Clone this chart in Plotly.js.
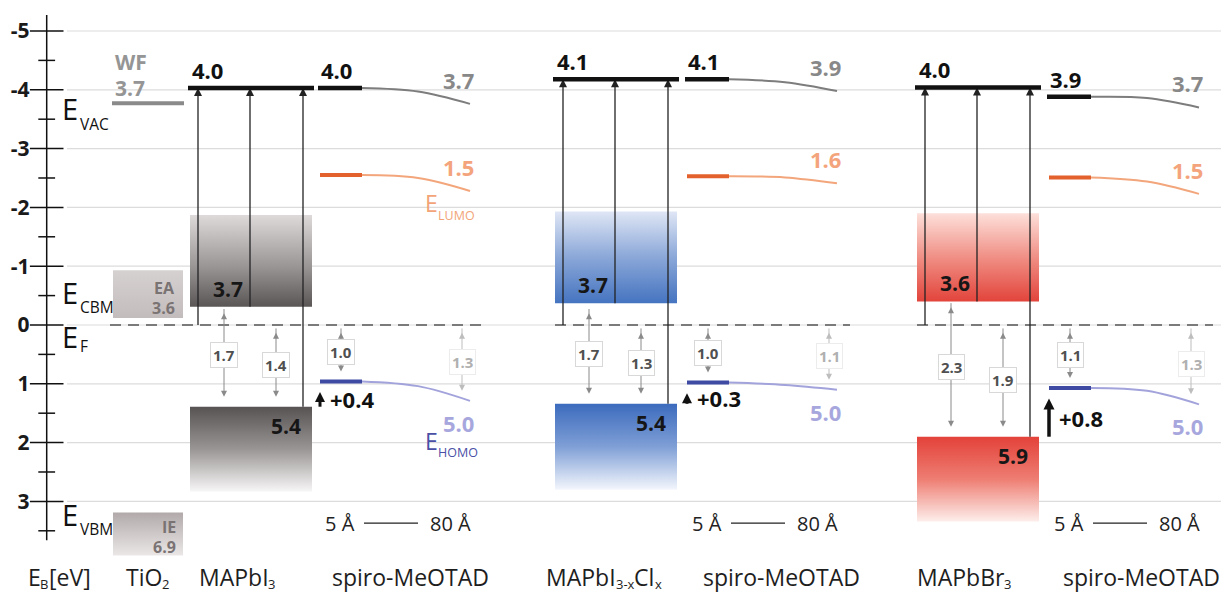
<!DOCTYPE html>
<html><head><meta charset="utf-8">
<script src="https://cdn.plot.ly/plotly-3.0.1.min.js"></script>
<style>html,body{margin:0;padding:0;background:#fff}#chart{width:1221px;height:594px}</style>
</head><body><div id="chart"></div>
<script>
// ================= DATA =================
const yTickVals = [-5, -4, -3, -2, -1, 0, 1, 2, 3];
const yTickText = ['-5', '-4', '-3', '-2', '-1', '0', '1', '2', '3'];
const yMinorVals = [-4.5, -3.5, -2.5, -1.5, -0.5, 0.5, 1.5, 2.5, 3.5];
const bottomLabels = ['E<sub>B</sub>[eV]', 'TiO<sub>2</sub>', 'MAPbI<sub>3</sub>', 'spiro-MeOTAD',
  'MAPbI<sub>3-x</sub>Cl<sub>x</sub>', 'spiro-MeOTAD', 'MAPbBr<sub>3</sub>', 'spiro-MeOTAD'];

// TiO2
const tio2WF = -3.77, tio2WFLabel = '3.7';
const tio2EA = [-0.93, -0.12], tio2EALabel = '3.6';
const tio2IE = [3.19, 3.92], tio2IELabel = '6.9';

// perovskites (MAPbI3, MAPbI3-xClx, MAPbBr3)
const pvVac = [-4.03, -4.18, -4.04];
const pvVacLabel = ['4.0', '4.1', '4.0'];
const pvCBMTop = [-1.87, -1.93, -1.90];
const pvCBM = [-0.31, -0.37, -0.40];
const pvCBMLabel = ['3.7', '3.7', '3.6'];
const pvVBM = [1.39, 1.34, 1.90];
const pvVBMBottom = [2.83, 2.80, 3.34];
const pvVBMLabel = ['5.4', '5.4', '5.9'];
const pvGapA = ['1.7', '1.7', '2.3'];
const pvGapB = ['1.4', '1.3', '1.9'];

// spiro-MeOTAD on each perovskite (5 Å -> 80 Å)
const spVacStart = [-4.03, -4.18, -3.88];
const spVacMid = [-3.97, -4.13, -3.86];
const spVacEnd = [-3.76, -3.98, -3.70];
const spVacStartLabel = ['4.0', '4.1', '3.9'];
const spVacEndLabel = ['3.7', '3.9', '3.7'];
const spLumoStart = [-2.55, -2.53, -2.51];
const spLumoMid = [-2.50, -2.51, -2.44];
const spLumoEnd = [-2.28, -2.41, -2.23];
const spLumoLabel = ['1.5', '1.6', '1.5'];
const spHomoStart = [0.96, 0.98, 1.07];
const spHomoMid = [1.04, 1.02, 1.12];
const spHomoEnd = [1.29, 1.10, 1.35];
const spHomoLabel = ['5.0', '5.0', '5.0'];
const spShiftLabel = ['+0.4', '+0.3', '+0.8'];
const spGapNear = ['1.0', '1.0', '1.1'];
const spGapFar = ['1.3', '1.1', '1.3'];

// ================= LAYOUT POSITIONS =================
const FONT = 'Open Sans, Noto Sans, sans-serif';
const PX = 1 / 58.8; // eV per pixel on the y axis
const axisX = 46.7;
const bottomLabelX = [58, 147, 236, 409, 603, 780, 963, 1140];
const pvLeft = [190, 555, 917], pvW = 122;
const spStart = [318, 685, 1047];
const gapTopA = [-0.2, -0.2, -0.3];
const efSegments = [[110, 485], [555, 850], [917, 1213]];

const traces = [];
const shapes = [];
const ann = [];

function addLine(xs, ys, color, width, opts) {
  traces.push(Object.assign({type: 'scatter', mode: 'lines', x: xs, y: ys,
    line: Object.assign({color: color, width: width}, (opts && opts.line) || {}),
    hoverinfo: 'skip', showlegend: false}, (opts && opts.extra) || {}));
}
function addBox(x0, x1, yTop, yBot, scale) {
  traces.push({type: 'scatter', mode: 'lines', x: [x0, x1, x1, x0, x0], y: [yTop, yTop, yBot, yBot, yTop],
    line: {width: 0, color: 'rgba(0,0,0,0)'}, fill: 'toself',
    fillgradient: {type: 'vertical', start: yTop, stop: yBot, colorscale: scale},
    hoverinfo: 'skip', showlegend: false});
}
function txt(x, y, text, size, color, o) {
  ann.push(Object.assign({x: x, y: y, xref: 'x', yref: 'y', text: text, showarrow: false,
    font: {family: FONT, size: size, color: color}, xanchor: 'center', yanchor: 'middle'}, o || {}));
}
// vertical arrow drawn as a line plus arrow-head markers (tip exactly at the end point)
function arrow(x, yHead, yTail, color, width, head, both) {
  const dir = yHead < yTail ? -1 : 1;          // -1: pointing up on screen
  const cut = head * 0.7 * PX;
  const y0 = both ? yTail - dir * cut : yTail;
  const y1 = yHead - dir * cut;
  addLine([x, x], [y0, y1], color, width);
  const xs = [x], ys = [yHead], sy = [dir < 0 ? 'arrow-up' : 'arrow-down'];
  if (both) { xs.push(x); ys.push(yTail); sy.push(dir < 0 ? 'arrow-down' : 'arrow-up'); }
  traces.push({type: 'scatter', mode: 'markers', x: xs, y: ys,
    marker: {symbol: sy, size: head, color: color, line: {width: 0}}, hoverinfo: 'skip', showlegend: false});
}
// text with real subscripts placed as separate pieces (measured with canvas)
const ctx = document.createElement('canvas').getContext('2d');
function textW(t, size) { ctx.font = size + 'px "Open Sans"'; return ctx.measureText(t).width; }
function richLabel(markup, xCenter, y, size, subSize, color) {
  const parts = [];
  markup.split(/(<sub>.*?<\/sub>)/).forEach(s => {
    if (!s) return;
    const m = s.match(/^<sub>(.*)<\/sub>$/);
    parts.push(m ? {t: m[1], sub: true} : {t: s, sub: false});
  });
  const widths = parts.map(p => textW(p.t, p.sub ? subSize : size));
  const total = widths.reduce((a, b) => a + b, 0);
  let x = xCenter - total / 2;
  parts.forEach((p, k) => {
    txt(x, p.sub ? y + 7.5 * PX : y, p.t, p.sub ? subSize : size, color, {xanchor: 'left', borderpad: 0});
    x += widths[k];
  });
}

// gridlines
yTickVals.forEach(v => shapes.push({type: 'line', xref: 'x', yref: 'y', x0: 67, x1: 1221, y0: v, y1: v,
  line: {color: '#dcdcdc', width: 1.2}, layer: 'below'}));

// y axis line + crossing ticks
addLine([axisX, axisX], [-5.27, 3.66], '#111', 1.5);
traces.push({type: 'scatter', mode: 'markers', x: yTickVals.map(() => axisX), y: yTickVals,
  marker: {symbol: 'line-ew', size: 24, line: {color: '#111', width: 1.5}}, hoverinfo: 'skip', showlegend: false});
traces.push({type: 'scatter', mode: 'markers', x: yMinorVals.map(() => axisX), y: yMinorVals,
  marker: {symbol: 'line-ew', size: 12, line: {color: '#111', width: 1.5}}, hoverinfo: 'skip', showlegend: false});

// E_F dashed
efSegments.forEach(s => addLine(s, [0, 0], '#555', 1.6, {line: {dash: '11px,7px'}}));

// TiO2
addLine([112, 184], [tio2WF, tio2WF], '#8a8a8a', 4);
addBox(113, 183, tio2EA[0], tio2EA[1], [[0, '#d6d1d1'], [1, '#c3bcbc']]);
addBox(113, 183, tio2IE[0], tio2IE[1], [[0, '#b2aaaa'], [1, '#ebe7e7']]);
txt(113, -4.47, '<b>WF</b>', 21, '#959595', {xanchor: 'left'});
txt(113, -4.03, '<b>' + tio2WFLabel + '</b>', 21, '#959595', {xanchor: 'left'});
txt(177, -0.63, '<b>EA</b>', 16, '#7a7373', {xanchor: 'right'});
txt(177, -0.29, '<b>' + tio2EALabel + '</b>', 16, '#7a7373', {xanchor: 'right'});
txt(178, 3.43, '<b>IE</b>', 16, '#7a7373', {xanchor: 'right'});
txt(178, 3.77, '<b>' + tio2IELabel + '</b>', 16, '#7a7373', {xanchor: 'right'});

// left E labels
const eLab = [['VAC', -3.69, -3.41], ['CBM', -0.56, -0.31], ['F', 0.2, 0.36], ['VBM', 3.23, 3.47]];
eLab.forEach(l => {
  txt(60, l[1], 'E', 29, '#111', {xanchor: 'left'});
  txt(78, l[2], l[0], 15.5, '#111', {xanchor: 'left'});
});

// perovskite columns
const cbmScales = [
  [[0, '#dedada'], [0.55, '#9c9797'], [1, '#5b5656']],
  [[0, '#dfe6f5'], [0.5, '#8aa7d8'], [1, '#4574c0']],
  [[0, '#fde0da'], [0.5, '#f08f85'], [1, '#e2443b']]];
const vbmScales = [
  [[0, '#585353'], [0.5, '#9a9595'], [1, '#f7f6f6']],
  [[0, '#3c6bbd'], [0.5, '#7f9fd6'], [1, '#f3f6fc']],
  [[0, '#e3423a'], [0.5, '#ee7d72'], [1, '#fdeeeb']]];
for (let i = 0; i < 3; i++) {
  const L = pvLeft[i];
  addBox(L, L + pvW, pvCBMTop[i], pvCBM[i], cbmScales[i]);
  addBox(L, L + pvW, pvVBM[i], pvVBMBottom[i], vbmScales[i]);
}
for (let i = 0; i < 3; i++) {
  const L = pvLeft[i];
  // black arrows to vacuum level
  arrow(L + 8, pvVac[i], 0, '#222', 1.3, 8, false);
  arrow(L + 60, pvVac[i], pvCBM[i], '#222', 1.3, 8, false);
  arrow(L + 113, pvVac[i], pvVBM[i], '#222', 1.3, 8, false);
  addLine([L - 2, L + pvW + 2], [pvVac[i], pvVac[i]], '#111', 4.5);
  txt(L, pvVac[i], '<b>' + pvVacLabel[i] + '</b>', 22, '#111', {xanchor: 'left', yanchor: 'bottom', yshift: 1});
  txt(L + 21, pvCBM[i], '<b>' + pvCBMLabel[i] + '</b>', 21, '#161616', {xanchor: 'left', yanchor: 'bottom', yshift: 2});
  txt(L + 113, pvVBM[i], '<b>' + pvVBMLabel[i] + '</b>', 21, '#161616', {xanchor: 'right', yanchor: 'top', yshift: -3});
  // gray double arrows E_F -> VBM
  const yb = pvVBM[i] - 0.17;
  arrow(L + 34, yb, gapTopA[i], '#8a8a8a', 1, 6, true);
  arrow(L + 86, yb, 0.13, '#8a8a8a', 1, 6, true);
  txt(L + 34, (yb + gapTopA[i]) / 2, '<b>' + pvGapA[i] + '</b>', 15, '#505050',
    {bgcolor: '#fff', bordercolor: '#d8d8d8', borderwidth: 1, borderpad: 2});
  txt(L + 86, (yb + 0.13) / 2, '<b>' + pvGapB[i] + '</b>', 15, '#505050',
    {bgcolor: '#fff', bordercolor: '#d8d8d8', borderwidth: 1, borderpad: 2});
}

// spiro columns
for (let i = 0; i < 3; i++) {
  const S = spStart[i];
  const xsC = [S + 44, S + 100, S + 152];
  // vacuum
  addLine(xsC, [spVacStart[i], spVacMid[i], spVacEnd[i]], '#7d7d7d', 2, {line: {shape: 'spline', smoothing: 1}});
  addLine([S, S + 44], [spVacStart[i], spVacStart[i]], '#111', 4.5);
  txt(S + 1, spVacStart[i], '<b>' + spVacStartLabel[i] + '</b>', 22, '#111', {xanchor: 'left', yanchor: 'bottom', yshift: 1});
  txt(S + 158, spVacEnd[i], '<b>' + spVacEndLabel[i] + '</b>', 22, '#888', {xanchor: 'right', yanchor: 'bottom', yshift: 7});
  // LUMO
  addLine(xsC, [spLumoStart[i], spLumoMid[i], spLumoEnd[i]], '#f3a67c', 2, {line: {shape: 'spline', smoothing: 1}});
  addLine([S + 2, S + 44], [spLumoStart[i], spLumoStart[i]], '#e2612d', 4);
  txt(S + 158, spLumoEnd[i], '<b>' + spLumoLabel[i] + '</b>', 22, '#f4a47c', {xanchor: 'right', yanchor: 'bottom', yshift: 7});
  // HOMO
  addLine(xsC, [spHomoStart[i], spHomoMid[i], spHomoEnd[i]], '#a3a3dc', 2, {line: {shape: 'spline', smoothing: 1}});
  addLine([S + 2, S + 44], [spHomoStart[i], spHomoStart[i]], '#3f4aa3', 4);
  txt(S + 158, spHomoEnd[i], '<b>' + spHomoLabel[i] + '</b>', 22, '#a7a7de', {xanchor: 'right', yanchor: 'top', yshift: -5});
  // shift arrow
  const yTip = spHomoStart[i] + 0.18;
  arrow(S + 2, yTip, pvVBM[i], '#111', i === 2 ? 3.5 : 3, i === 2 ? 11 : 10, false);
  txt(S + 10, (yTip + pvVBM[i]) / 2, '<b>' + spShiftLabel[i] + '</b>', 22, '#111', {xanchor: 'left'});
  // gray gaps
  const yn = spHomoStart[i] - 0.17, yf = spHomoEnd[i] - 0.17;
  arrow(S + 23, yn, 0.13, '#8a8a8a', 1, 6, true);
  arrow(S + 144, yf, 0.13, '#bdbdbd', 1, 6, true);
  txt(S + 23, (yn + 0.13) / 2, '<b>' + spGapNear[i] + '</b>', 15, '#505050',
    {bgcolor: '#fff', bordercolor: '#d8d8d8', borderwidth: 1, borderpad: 2});
  txt(S + 144, (yf + 0.13) / 2, '<b>' + spGapFar[i] + '</b>', 15, '#b0b0b0',
    {bgcolor: '#fff', bordercolor: '#ececec', borderwidth: 1, borderpad: 2});
  // distance scale
  txt(S + 22, 3.37, '5 Å', 20, '#222');
  addLine([S + 46, S + 100], [3.37, 3.37], '#222', 1.2);
  txt(S + 132, 3.37, '80 Å', 20, '#222');
}

// E_LUMO / E_HOMO
txt(423, -2.08, 'E', 23, '#f2a478', {xanchor: 'left'});
txt(436, -1.87, 'LUMO', 12.5, '#f2a478', {xanchor: 'left'});
txt(423, 1.98, 'E', 23, '#4a4fa6', {xanchor: 'left'});
txt(436, 2.16, 'HOMO', 12.5, '#4a4fa6', {xanchor: 'left'});

// bottom labels
bottomLabels.forEach((t, k) => richLabel(t, bottomLabelX[k], 4.28, 23, 13, '#1e1e1e'));

const layout = {
  width: 1221, height: 594,
  margin: {l: 0, r: 0, t: 0, b: 0},
  paper_bgcolor: '#fff', plot_bgcolor: 'rgba(0,0,0,0)',
  showlegend: false,
  xaxis: {range: [0, 1221], visible: false, fixedrange: true},
  yaxis: {range: [4.575, -5.527], anchor: 'free', position: axisX / 1221, side: 'left',
    showgrid: false, zeroline: false, showline: false,
    tickvals: yTickVals, ticktext: yTickText, ticks: 'outside', ticklen: 13, tickcolor: 'rgba(0,0,0,0)',
    tickfont: {family: FONT, size: 21, color: '#1a1a1a', weight: 'bold'}, fixedrange: true},
  shapes: shapes,
  annotations: ann
};
Plotly.newPlot('chart', traces, layout, {displayModeBar: false, staticPlot: true});
</script>
</body></html>
